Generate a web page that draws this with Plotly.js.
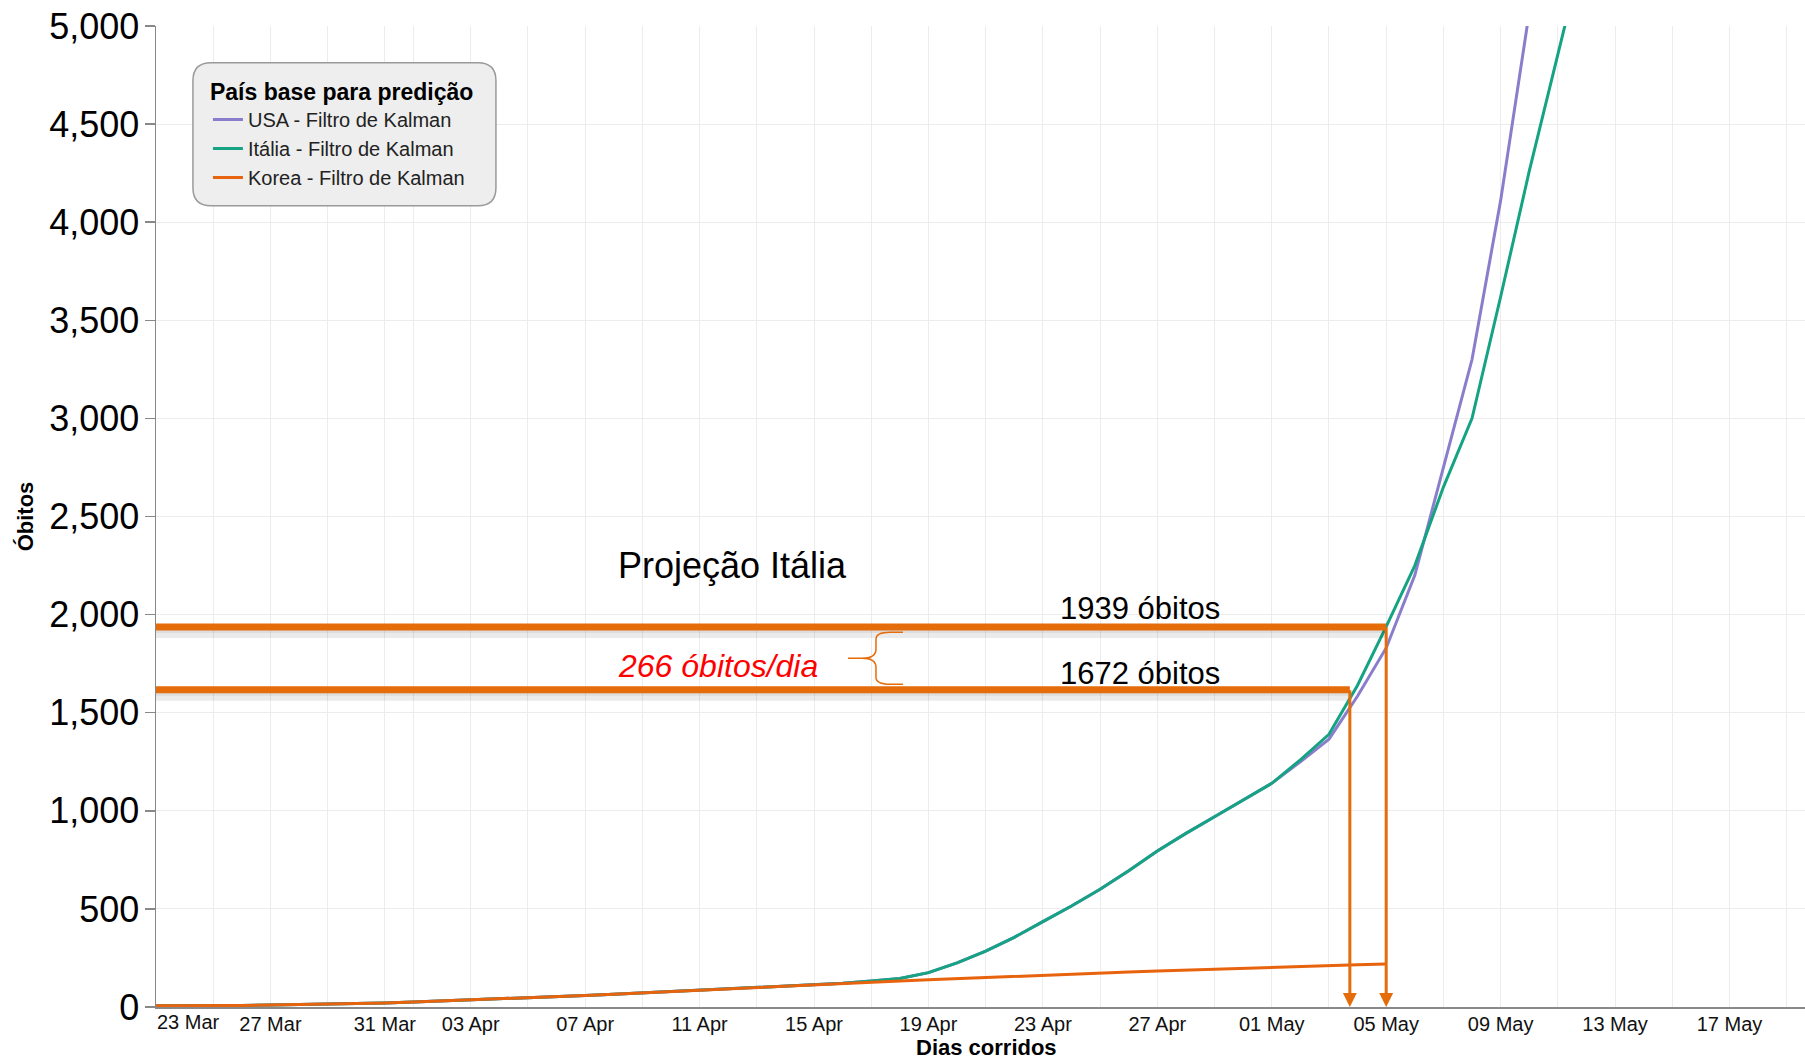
<!DOCTYPE html>
<html>
<head>
<meta charset="utf-8">
<script src="https://cdn.plot.ly/plotly-3.0.1.min.js"></script>
<style>
html,body{margin:0;padding:0;background:#fff;}
#chart{width:1805px;height:1061px;}
</style>
</head>
<body>
<div id="chart"></div>
<script>
// ---------- data ----------
const dates = [
  '2020-03-23','2020-03-24','2020-03-25','2020-03-26','2020-03-27','2020-03-28','2020-03-29','2020-03-30','2020-03-31',
  '2020-04-01','2020-04-02','2020-04-03','2020-04-04','2020-04-05','2020-04-06','2020-04-07','2020-04-08','2020-04-09',
  '2020-04-10','2020-04-11','2020-04-12','2020-04-13','2020-04-14','2020-04-15','2020-04-16','2020-04-17','2020-04-18',
  '2020-04-19','2020-04-20','2020-04-21','2020-04-22','2020-04-23','2020-04-24','2020-04-25','2020-04-26','2020-04-27',
  '2020-04-28','2020-04-29','2020-04-30','2020-05-01','2020-05-02','2020-05-03','2020-05-04','2020-05-05','2020-05-06',
  '2020-05-07','2020-05-08','2020-05-09','2020-05-10','2020-05-11','2020-05-12'
];

const usaValues = [
  6,6,7,8,10,12,14,17,20,
  25,30,35,41,47,53,59,65,72,
  79,86,94,101,108,115,121,132,145,
  175,225,285,355,435,515,600,695,795,
  885,970,1055,1140,1250,1365,1585,1830,2200,
  2755,3300,4110,5070
];

const italiaValues = [
  6,6,7,8,10,12,14,17,20,
  25,30,35,41,47,53,59,65,72,
  79,86,94,101,108,115,121,132,145,
  175,225,285,355,435,515,600,695,795,
  885,970,1055,1140,1260,1390,1640,1939,2250,
  2650,3000,3620,4260,4870,5450
];

const koreaValues = [
  6,6,7,8,10,12,14,17,20,
  25,30,35,41,47,53,59,65,72,
  79,86,94,101,108,115,121,127,133,
  139,145,151,157,163,168,173,178,183,
  188,193,198,203,207,211,215,219
];

const seriesNames = ['USA - Filtro de Kalman', 'Itália - Filtro de Kalman', 'Korea - Filtro de Kalman'];
const seriesColors = ['#8a7dcc', '#15a384', '#e8630e'];

// x grid / tick labels (every other tick label kept; first one is drawn flush-left)
const gridDates = [
  '2020-03-23','2020-03-25','2020-03-27','2020-03-29','2020-03-31',
  '2020-04-01','2020-04-03','2020-04-05','2020-04-07','2020-04-09','2020-04-11','2020-04-13','2020-04-15',
  '2020-04-17','2020-04-19','2020-04-21','2020-04-23','2020-04-25','2020-04-27','2020-04-29',
  '2020-05-01','2020-05-03','2020-05-05','2020-05-07','2020-05-09','2020-05-11','2020-05-13','2020-05-15',
  '2020-05-17','2020-05-19'
];
const gridLabels = [
  '','','27 Mar','','31 Mar',
  '','03 Apr','','07 Apr','','11 Apr','','15 Apr',
  '','19 Apr','','23 Apr','','27 Apr','',
  '01 May','','05 May','','09 May','','13 May','',
  '17 May',''
];
const firstTickLabel = '23 Mar';
const xTitle = 'Dias corridos';
const yTitle = 'Óbitos';

// projection overlay (as drawn on the picture)
const projLevels = [1937, 1617];                        // horizontal marker lines
const projDates  = ['2020-05-05 00:00', '2020-05-03 17:30']; // where they meet the curve
const projTexts  = ['1939 óbitos', '1672 óbitos'];
const rateText   = '266 óbitos/dia';
const projTitle  = 'Projeção Itália';

// ---------- build ----------
const FONT = 'Liberation Sans, Arial, Helvetica, sans-serif';
const OR = '#E46C0A';

const allValues = [usaValues, italiaValues, koreaValues];
const traces = allValues.map((vals, i) => ({
  type: 'scatter', mode: 'lines',
  name: seriesNames[i],
  x: dates.slice(0, vals.length),
  y: vals,
  line: {color: seriesColors[i], width: 3},
  hoverinfo: 'skip'
}));

const shapes = [];
// legend rounded box
const LW = 303, LH = 143, R = 18;
shapes.push({
  type: 'path', xref: 'paper', yref: 'paper',
  xsizemode: 'pixel', ysizemode: 'pixel',
  xanchor: 0.0224, yanchor: 0.9625,
  path: `M${R},0 L${LW-R},0 Q${LW},0 ${LW},${-R} L${LW},${-(LH-R)} Q${LW},${-LH} ${LW-R},${-LH} L${R},${-LH} Q0,${-LH} 0,${-(LH-R)} L0,${-R} Q0,0 ${R},0 Z`,
  fillcolor: '#eeeeee', line: {color: '#9a9a9a', width: 1.5}, layer: 'above'
});

projLevels.forEach((lv, i) => {
  // soft shadow under the thick marker line
  shapes.push({
    type: 'rect', xref: 'x', yref: 'y', ysizemode: 'pixel', yanchor: lv,
    x0: '2020-03-23', x1: projDates[i], y0: -3, y1: -11,
    fillcolor: 'rgba(0,0,0,0.08)', line: {width: 0}, layer: 'above'
  });
  shapes.push({
    type: 'rect', xref: 'x', yref: 'y', ysizemode: 'pixel', yanchor: lv,
    x0: '2020-03-23', x1: projDates[i], y0: -3, y1: -6,
    fillcolor: 'rgba(0,0,0,0.06)', line: {width: 0}, layer: 'above'
  });
  shapes.push({
    type: 'line', xref: 'x', yref: 'y',
    x0: '2020-03-23', x1: projDates[i], y0: lv, y1: lv,
    line: {color: OR, width: 7}, layer: 'above'
  });
});

// curly brace between the two levels
shapes.push({
  type: 'path', xref: 'x', yref: 'y',
  xsizemode: 'pixel', ysizemode: 'pixel',
  xanchor: '2020-04-16 04:30', yanchor: (projLevels[0] + projLevels[1]) / 2,
  path: 'M0,0 L14,0 C24,0 28,3 28,9 L28,19 C28,24 32,26 42,26 L55,26 M14,0 C24,0 28,-3 28,-9 L28,-19 C28,-24 32,-26 42,-26 L55,-26',
  line: {color: OR, width: 1.5}, layer: 'above'
});

const annotations = [];
// vertical arrows down to the x axis
projLevels.forEach((lv, i) => {
  annotations.push({
    xref: 'x', yref: 'y', axref: 'x', ayref: 'y',
    x: projDates[i], y: 0, ax: projDates[i], ay: lv,
    text: '', showarrow: true, arrowhead: 2, arrowsize: 0.93, arrowwidth: 3,
    arrowcolor: OR, standoff: 0, startstandoff: 0, borderpad: 0
  });
});
// first x tick label, flush with the axis start
annotations.push({
  xref: 'x', yref: 'paper', x: gridDates[0], y: 0, xanchor: 'left', yanchor: 'top',
  xshift: -1, yshift: -2,
  text: firstTickLabel, showarrow: false, font: {family: FONT, size: 20, color: '#111'}
});
// x axis title (placed in the bottom margin)
annotations.push({
  xref: 'paper', yref: 'paper', x: 0.5, y: 0, xanchor: 'center', yanchor: 'middle',
  xshift: 6, yshift: -40, borderpad: 0,
  text: xTitle, showarrow: false, font: {family: FONT, size: 22, weight: 'bold', color: '#000'}
});
annotations.push({
  xref: 'x', yref: 'y', x: '2020-04-08 02:00', y: 2248, xanchor: 'left', yanchor: 'middle',
  text: projTitle, showarrow: false, font: {family: FONT, size: 36, color: '#000'}
});
annotations.push({
  xref: 'x', yref: 'y', x: '2020-04-23 12:50', y: 2030, xanchor: 'left', yanchor: 'middle',
  text: projTexts[0], showarrow: false, font: {family: FONT, size: 31, color: '#000'}
});
annotations.push({
  xref: 'x', yref: 'y', x: '2020-04-23 12:50', y: 1699, xanchor: 'left', yanchor: 'middle',
  text: projTexts[1], showarrow: false, font: {family: FONT, size: 31, color: '#000'}
});
annotations.push({
  xref: 'x', yref: 'y', x: '2020-04-08 02:00', y: 1737, xanchor: 'left', yanchor: 'middle',
  text: rateText, showarrow: false, font: {family: FONT, size: 32, color: '#ff0000', style: 'italic'}
});

const layout = {
  width: 1805, height: 1061,
  margin: {l: 156, r: 0, t: 26, b: 54, pad: 0},
  paper_bgcolor: '#fff', plot_bgcolor: '#fff',
  font: {family: FONT, color: '#000'},
  showlegend: true,
  legend: {
    x: 0.0315, y: 0.955, xanchor: 'left', yanchor: 'top',
    bgcolor: 'rgba(0,0,0,0)', borderwidth: 0,
    font: {family: FONT, size: 20, color: '#222'},
    title: {text: 'País base para predição', font: {family: FONT, size: 23, weight: 'bold', color: '#000'}},
    tracegroupgap: 0
  },
  xaxis: {
    type: 'date',
    range: ['2020-03-23', '2020-05-19 15:20'],
    tickmode: 'array', tickvals: gridDates, ticktext: gridLabels,
    ticks: '', ticklabelstandoff: -2, showgrid: true, gridcolor: '#ececec', gridwidth: 1,
    showline: true, linecolor: '#888', linewidth: 1.5, zeroline: false,
    tickfont: {family: FONT, size: 20, color: '#111'}
  },
  yaxis: {
    range: [0, 5000], dtick: 500, tick0: 0, tickformat: ',d',
    ticks: 'outside', ticklen: 10, tickcolor: '#888', tickwidth: 1.5, ticklabelstandoff: -2,
    showgrid: true, gridcolor: '#ececec', gridwidth: 1,
    showline: true, linecolor: '#888', linewidth: 1.5, zeroline: false,
    tickfont: {family: FONT, size: 36, color: '#000'},
    title: {text: yTitle, font: {family: FONT, size: 22, weight: 'bold', color: '#000'}, standoff: 9}
  },
  shapes: shapes,
  annotations: annotations
};

Plotly.newPlot('chart', traces, layout, {displayModeBar: false, staticPlot: true});
</script>
</body>
</html>
